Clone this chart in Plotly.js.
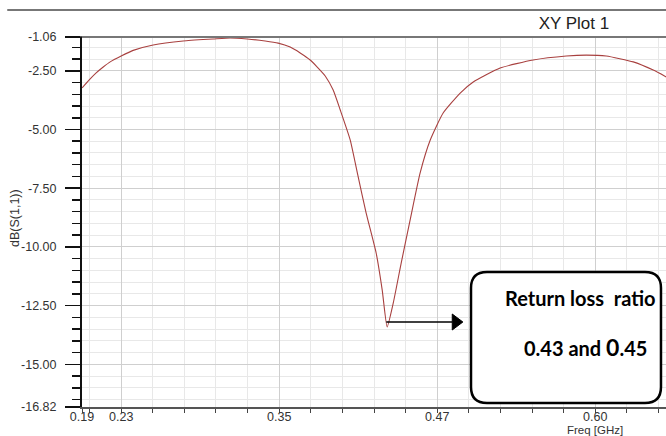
<!DOCTYPE html>
<html>
<head>
<meta charset="utf-8">
<script src="https://cdn.plot.ly/plotly-3.0.1.min.js"></script>
<style>html,body{margin:0;padding:0;background:#fff;}#chart{width:666px;height:436px;}</style>
</head>
<body>
<div id="chart"></div>
<script>
// Frequency (GHz) and dB(S(1,1))
const freq = [0.1941, 0.1997, 0.2052, 0.2108, 0.2163, 0.2250, 0.2345, 0.2503, 0.2741, 0.2978, 0.3112, 0.3247, 0.3389, 0.3492, 0.3587, 0.3666, 0.3745, 0.3801, 0.3864, 0.3927, 0.3983, 0.4062, 0.4125, 0.4188, 0.4267, 0.4315, 0.4354, 0.4402, 0.4465, 0.4536, 0.4615, 0.4695, 0.4797, 0.4932, 0.5035, 0.5248, 0.5509, 0.5771, 0.5929, 0.6087, 0.6301, 0.6459, 0.6562];
const s11 = [-3.23, -2.89, -2.59, -2.34, -2.12, -1.87, -1.63, -1.40, -1.23, -1.145, -1.10, -1.145, -1.23, -1.32, -1.49, -1.74, -2.04, -2.34, -2.72, -3.32, -4.17, -5.45, -7.02, -8.56, -10.26, -11.84, -13.41, -12.40, -10.69, -8.85, -6.85, -5.45, -4.30, -3.45, -2.98, -2.38, -2.04, -1.87, -1.83, -1.87, -2.12, -2.47, -2.76];

const yTickVals = [-1.06, -2.50, -5.00, -7.50, -10.00, -12.50, -15.00, -16.82];
const yTickText = ['-1.06', '-2.50', '-5.00', '-7.50', '-10.00', '-12.50', '-15.00', '-16.82'];
const xTickVals = [0.194, 0.225, 0.35, 0.475, 0.60];
const xTickText = ['0.19', '0.23', '0.35', '0.47', '0.60'];

const titleText = 'XY Plot 1';
const yTitle = 'dB(S(1,1))';
const xTitle = 'Freq [GHz]';
const noteLine1 = 'Return loss\u00a0 ratio';
const noteLine2 = '0.43 and <span style="font-size:23px">0</span>.45';

// arrow from the minimum to the note box
const minFreq = 0.4347, arrowY = -13.2, arrowTip = 0.4953, arrowBase = 0.4869;

// rounded box in paper coords
const X1 = 0.6661, X2 = 0.9914, YT = 0.3649, YB = 0.0108, rx = 0.0274, ry = 0.0432;
const boxPath = `M ${X1+rx},${YT} L ${X2-rx},${YT} Q ${X2},${YT} ${X2},${YT-ry} L ${X2},${YB+ry} Q ${X2},${YB} ${X2-rx},${YB} L ${X1+rx},${YB} Q ${X1},${YB} ${X1},${YB+ry} L ${X1},${YT-ry} Q ${X1},${YT} ${X1+rx},${YT} Z`;

const font = 'Liberation Sans, Arial, sans-serif';

const trace = {
  x: freq, y: s11, type: 'scatter', mode: 'lines',
  line: {color: '#a8403f', width: 1.1, shape: 'spline', smoothing: 0.5},
  hoverinfo: 'skip'
};

const layout = {
  width: 666, height: 436,
  margin: {l: 82, r: 0, t: 37, b: 29, pad: 0},
  paper_bgcolor: '#ffffff', plot_bgcolor: '#ffffff',
  showlegend: false,
  font: {family: font, size: 12.5, color: '#333333'},
  title: {text: titleText, font: {family: font, size: 17, color: '#222222'},
          x: 561/666, xanchor: 'center', xref: 'paper', y: 1 - 23/436, yanchor: 'middle'},
  xaxis: {
    range: [0.194, 0.656], tickmode: 'array', tickvals: xTickVals, ticktext: xTickText,
    ticks: 'outside', ticklen: 4, tickwidth: 1, tickcolor: '#444',
    showgrid: true, gridcolor: '#cfcfcf', gridwidth: 1,
    showline: true, linecolor: '#555555', linewidth: 1.5, mirror: true,
    zeroline: false, fixedrange: true, ticklabelstandoff: -7,
    tickfont: {family: font, size: 12.5, color: '#333'},
    minor: {tick0: 0.225, dtick: 0.025, ticks: 'outside', ticklen: 4, tickcolor: '#444', showgrid: true, gridcolor: '#e8e8e8', gridwidth: 1}
  },
  yaxis: {
    range: [-16.82, -1.06], tickmode: 'array', tickvals: yTickVals, ticktext: yTickText,
    ticks: 'outside', ticklen: 15, tickwidth: 1.5, tickcolor: '#111',
    showgrid: true, gridcolor: '#cfcfcf', gridwidth: 1,
    showline: true, linecolor: '#111111', linewidth: 2,
    zeroline: false, fixedrange: true, ticklabelstandoff: 6,
    tickfont: {family: font, size: 12.5, color: '#333'},
    minor: {tick0: 0, dtick: 0.5, ticks: 'outside', ticklen: 8, tickwidth: 1.5, tickcolor: '#111', showgrid: true, gridcolor: '#e8e8e8', gridwidth: 1}
  },
  shapes: [
    {type: 'line', xref: 'paper', yref: 'paper', x0: -0.128, x1: 1, y0: (407-10)/370, y1: (407-10)/370,
     line: {color: '#777777', width: 2}},
    {type: 'line', xref: 'paper', yref: 'paper', x0: 0, x1: 1, y0: 1, y1: 1,
     line: {color: '#777777', width: 2}},
    {type: 'path', xref: 'paper', yref: 'paper', path: boxPath, fillcolor: '#ffffff',
     line: {color: '#000000', width: 2.5}, layer: 'above'},
    {type: 'line', xref: 'x', yref: 'y', x0: minFreq, x1: arrowBase, y0: arrowY, y1: arrowY,
     line: {color: '#000000', width: 1.5}, layer: 'above'},
    {type: 'path', xref: 'x', yref: 'y',
     path: `M ${arrowBase},${arrowY+0.34} L ${arrowTip},${arrowY} L ${arrowBase},${arrowY-0.34} Z`,
     fillcolor: '#000000', line: {color: '#000000', width: 1}, layer: 'above'}
  ],
  annotations: [
    {xref: 'paper', yref: 'paper', x: (15-82)/584, y: (407-218)/370, text: yTitle, textangle: -90,
     showarrow: false, xanchor: 'center', yanchor: 'middle', font: {family: font, size: 12.5, color: '#333'}},
    {xref: 'paper', yref: 'paper', x: (595-82)/584, y: (407-430)/370, text: xTitle,
     showarrow: false, xanchor: 'center', yanchor: 'middle', font: {family: font, size: 11.5, color: '#333'}},
    {xref: 'paper', yref: 'paper', x: (580-82)/584, y: (407-298)/370, text: '<b>' + noteLine1 + '</b>',
     showarrow: false, xanchor: 'center', yanchor: 'middle', font: {family: 'Lato, Open Sans, sans-serif', size: 20, color: '#000'}},
    {xref: 'paper', yref: 'paper', x: (585-82)/584, y: (407-347)/370, text: '<b>' + noteLine2 + '</b>',
     showarrow: false, xanchor: 'center', yanchor: 'middle', font: {family: 'Lato, Open Sans, sans-serif', size: 20, color: '#000'}}
  ]
};

Plotly.newPlot('chart', [trace], layout, {displayModeBar: false, staticPlot: true});
</script>
</body>
</html>
